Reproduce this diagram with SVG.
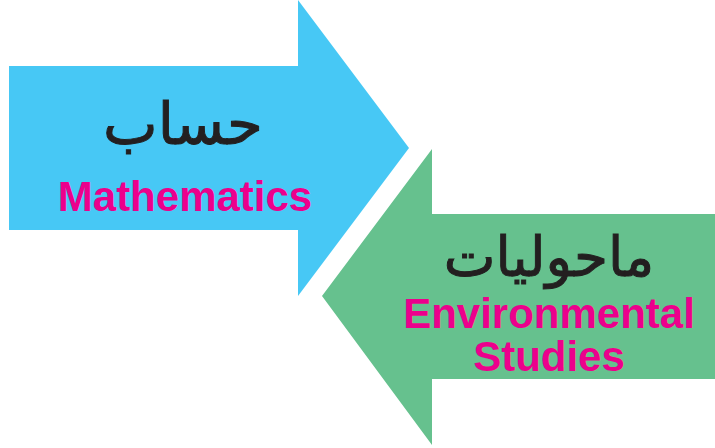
<svg xmlns="http://www.w3.org/2000/svg" width="715" height="448" viewBox="0 0 715 448">
<style>
.en{font-family:"Liberation Sans",Arial,sans-serif;font-weight:bold;font-size:42px;fill:#EC008C;text-anchor:middle}
.ur{font-family:"DejaVu Sans","Noto Sans",sans-serif;fill:#231F20;stroke:#231F20;stroke-width:1;text-anchor:middle}
</style>
<rect width="715" height="448" fill="#ffffff"/>
<g id="math">
<polygon points="9,66 298,66 298,0 409,148 298,296 298,230 9,230" fill="#47C8F5"/>
<text class="ur" x="183" y="144" font-size="58" direction="rtl">حساب</text>
<text class="en" x="185" y="211">Mathematics</text>
</g>
<g id="env">
<polygon points="715,214 432,214 432,149 322,296 432,445 432,379 715,379" fill="#66C18E"/>
<text class="ur" x="549" y="276" font-size="55" direction="rtl">ماحولیات</text>
<text class="en" x="549" y="328">Environmental</text>
<text class="en" x="549" y="371">Studies</text>
</g>
<g id="connectors"/>
</svg>
